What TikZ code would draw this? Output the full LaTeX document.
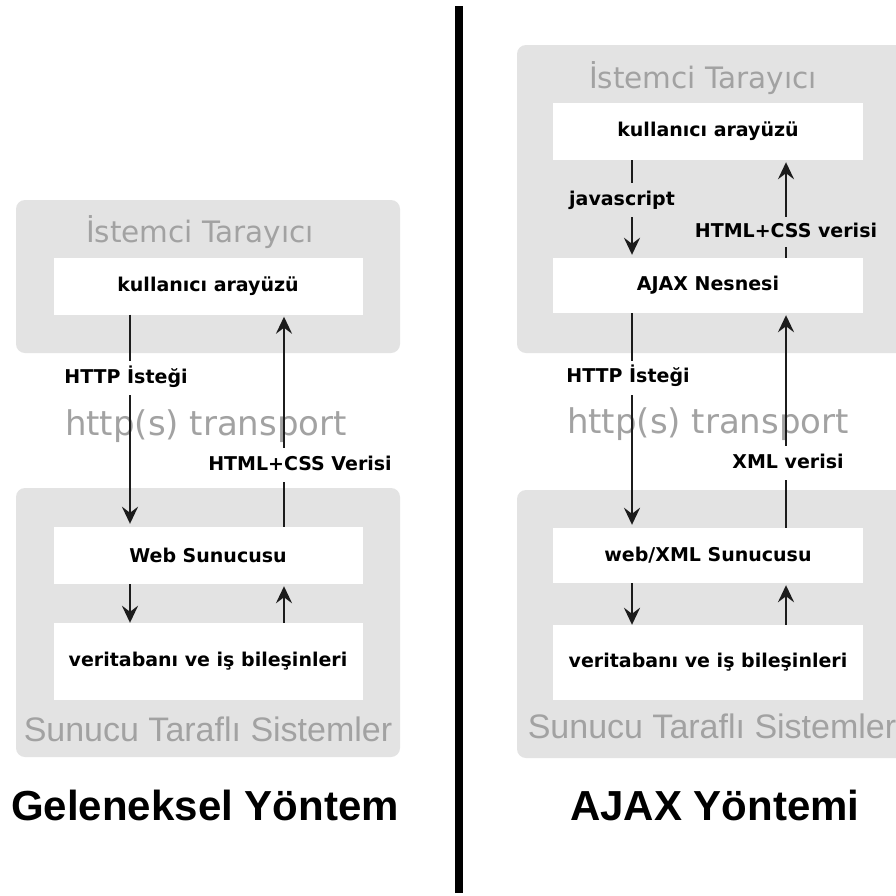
\documentclass[tikz,border=0pt]{standalone}
\usepackage{fontspec}
\setmainfont{Liberation Sans}
\newfontfamily\boxfont{DejaVu Sans}
\usetikzlibrary{arrows.meta}
\definecolor{panelgrey}{HTML}{E3E3E3}
\definecolor{titlegrey}{HTML}{A2A2A2}
\definecolor{inkdark}{HTML}{1C1C1C}

\begin{document}
\begin{tikzpicture}[x=1pt,y=-1pt,
  panel/.style={fill=panelgrey, rounded corners=9pt, inner sep=0pt},
  stage/.style={fill=white, minimum width=309pt, inner sep=0pt,
    font=\boxfont\bfseries\fontsize{19}{19}\selectfont, text=black},
  paneltitle/.style={text=titlegrey, inner sep=0pt, anchor=base,
    font=\boxfont\fontsize{29.5}{30}\selectfont},
  transport/.style={text=titlegrey, inner sep=0pt, anchor=base,
    font=\boxfont\fontsize{34}{34}\selectfont},
  sidetitle/.style={text=titlegrey, inner sep=0pt, anchor=base,
    font=\fontsize{34}{34}\selectfont},
  caption/.style={text=black, inner sep=0pt, anchor=base,
    font=\bfseries\fontsize{42}{42}\selectfont},
  flow/.style={draw=inkdark, line width=2.8pt,
    -{Stealth[length=17pt, width=16pt, inset=6pt]}},
  gaplabel/.style={fill=white, inner xsep=2pt, inner ysep=0pt,
    minimum height=34pt, text height=14pt, text depth=4pt, text=black,
    font=\boxfont\bfseries\fontsize{19}{19}\selectfont},
]
\useasboundingbox (0,0) rectangle (896,895);
\fill[white] (0,0) rectangle (896,895);
\clip (0,0) rectangle (896,895);

% ---------- traditional method (left) ----------
\node[panel, minimum width=384pt, minimum height=153pt] (lclient) at (208,276.5) {};
\node[panel, minimum width=384pt, minimum height=269pt] (lserver) at (208,622.5) {};
\node[paneltitle] (lclienttitle) at (200,242) {İstemci Tarayıcı};
\node[sidetitle] (lservertitle) at (208,741) {Sunucu Taraflı Sistemler};
\node[transport] (ltransport) at (206,435) {http(s) transport};

\node[stage, minimum height=57pt] (lui) at (208,286) {kullanıcı arayüzü};
\node[stage, minimum height=57pt] (lweb) at (208,555.5) {Web Sunucusu};
\node[stage, minimum height=77pt] (ldb) at (208,661.5) {veritabanı ve iş bileşinleri};

\draw[flow, shorten >=3pt] ([xshift=-78pt]lui.south) --
  node[gaplabel, pos=.30, xshift=-4pt] (lreq) {HTTP İsteği} ([xshift=-78pt]lweb.north);
\draw[flow, shorten >=2pt] ([xshift=76pt]lweb.north) --
  node[gaplabel, pos=.29, xshift=16pt] (lresp) {HTML+CSS Verisi} ([xshift=76pt]lui.south);
\draw[flow] ([xshift=-78pt]lweb.south) -- ([xshift=-78pt]ldb.north);
\draw[flow, shorten >=2pt] ([xshift=76pt]ldb.north) -- ([xshift=76pt]lweb.south);

\node[caption] (lcaption) at (205,820) {Geleneksel Yöntem};

% ---------- divider ----------
\coordinate (dtop) at (458.5,6);
\coordinate (dbot) at (458.5,893);
\draw[line width=8pt, black] (dtop) -- (dbot);

% ---------- AJAX method (right) ----------
\node[panel, minimum width=388pt, minimum height=308pt] (rclient) at (711,199) {};
\node[panel, minimum width=388pt, minimum height=268pt] (rserver) at (711,624) {};
\node[paneltitle] (rclienttitle) at (703,88) {İstemci Tarayıcı};
\node[sidetitle] (rservertitle) at (712,738) {Sunucu Taraflı Sistemler};
\node[transport] (rtransport) at (708,433) {http(s) transport};

\node[stage, minimum width=310pt, minimum height=57pt] (rui) at (708,131.5) {kullanıcı arayüzü};
\node[stage, minimum width=310pt, minimum height=55pt] (rajax) at (708,285.5) {AJAX Nesnesi};
\node[stage, minimum width=310pt, minimum height=55pt] (rweb) at (708,555.5) {web/XML Sunucusu};
\node[stage, minimum width=310pt, minimum height=75pt] (rdb) at (708,662.5) {veritabanı ve iş bileşinleri};

\draw[flow, shorten >=3pt] ([xshift=-76pt]rui.south) --
  node[gaplabel, fill=panelgrey, pos=.41, xshift=-10pt] (rjs) {javascript} ([xshift=-76pt]rajax.north);
\draw[flow, shorten >=2pt] ([xshift=78pt]rajax.north) --
  node[gaplabel, fill=panelgrey, minimum height=30pt, pos=.26] (rhtml) {HTML+CSS verisi} ([xshift=78pt]rui.south);
\draw[flow, shorten >=3pt] ([xshift=-76pt]rajax.south) --
  node[gaplabel, pos=.30, xshift=-4pt] (rreq) {HTTP İsteği} ([xshift=-76pt]rweb.north);
\draw[flow, shorten >=2pt] ([xshift=78pt]rweb.north) --
  node[gaplabel, pos=.30, xshift=2pt] (rxml) {XML verisi} ([xshift=78pt]rajax.south);
\draw[flow] ([xshift=-76pt]rweb.south) -- ([xshift=-76pt]rdb.north);
\draw[flow, shorten >=2pt] ([xshift=78pt]rdb.north) -- ([xshift=78pt]rweb.south);

\node[caption] (rcaption) at (715,820) {AJAX Yöntemi};
\end{tikzpicture}
\end{document}
